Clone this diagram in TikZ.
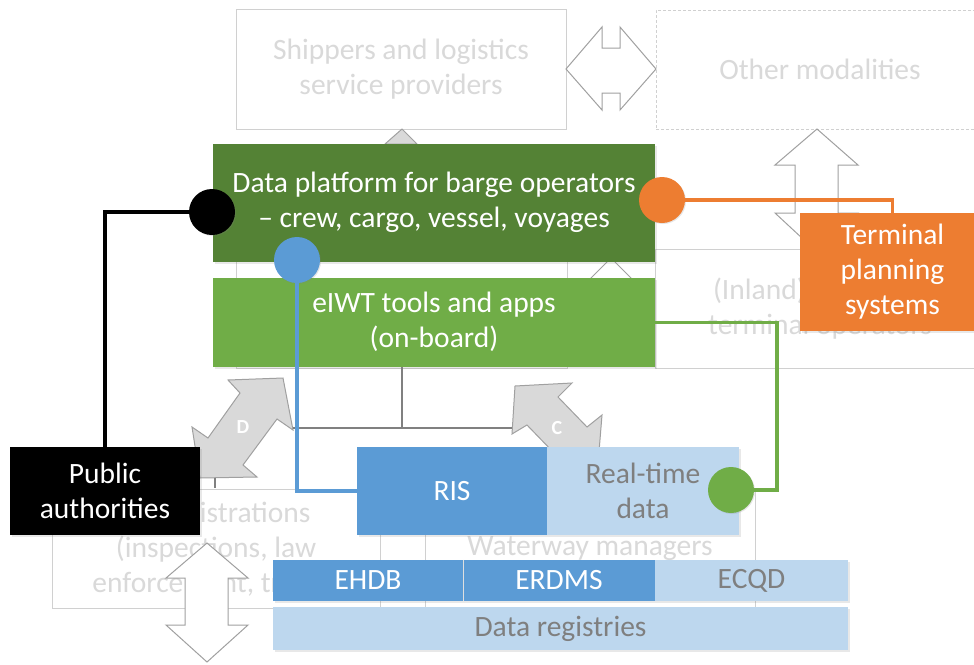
\documentclass[tikz,border=0pt]{standalone}
\usepackage{fontspec}
\setmainfont{Carlito}
\usetikzlibrary{shadows}
\definecolor{dkgreen}{HTML}{548235}
\definecolor{ltgreen}{HTML}{70AD47}
\definecolor{orng}{HTML}{ED7D31}
\definecolor{blu}{HTML}{5B9BD5}
\definecolor{ltblu}{HTML}{BDD7EE}
\definecolor{fadetxt}{HTML}{D9D9D9}
\definecolor{fadeline}{HTML}{D0D0D0}
\definecolor{txtgray}{HTML}{7F7F7F}
\definecolor{arrowline}{HTML}{A0A0A0}
\definecolor{arrowfill}{HTML}{D9D9D9}
\begin{document}
\begin{tikzpicture}[x=1pt,y=-1pt,
  every node/.style={font=\fontsize{29.5}{35}\selectfont, inner sep=0pt, align=center},
  fadebox/.style={rectangle, draw=fadeline, line width=1pt, fill=white, text=fadetxt},
  solidbox/.style={rectangle, draw=none, text=white,
     drop shadow={opacity=0.18, shadow xshift=1.5pt, shadow yshift=-1.5pt}},
  joindot/.style={circle, minimum size=46pt, draw=none,
     drop shadow={opacity=0.2, shadow xshift=1pt, shadow yshift=-1pt}},
  conn/.style={line width=3.5pt},
  blockarrow/.style={draw=arrowline, line width=1pt, fill=white, line join=miter},
  grayarrow/.style={draw=arrowline, line width=1pt, fill=arrowfill, line join=miter},
  treeline/.style={draw=gray, line width=1.2pt},
  arrlabel/.style={font=\fontsize{20}{24}\selectfont\bfseries, text=white}
]
\useasboundingbox (0,0) rectangle (974,664);

% faded background boxes
\node[fadebox, minimum width=331pt, minimum height=218pt] (barge) at (401.5,259) {};
\node[fadebox, minimum width=330pt, minimum height=119pt] (inland) at (820,309) {(Inland) ports and\\terminal operators};
\node[fadebox, minimum width=328pt, minimum height=119pt] (admin) at (216,549) {Administrations\\(inspections, law\\enforcement, traffic)};
\node[fadebox, minimum width=330pt, minimum height=119pt] (waterway) at (590,549) {Waterway managers};
\node[fadebox, minimum width=330pt, minimum height=120pt] (ship) at (401,69) {Shippers and logistics\\service providers};
\node[fadebox, dash pattern=on 3pt off 2pt, minimum width=328pt, minimum height=119pt] (other) at (820,69.5) {Other modalities};

% block arrows
\draw[blockarrow] (566,69) -- (602,27) -- (602,48) -- (620,48) -- (620,27) -- (656,69)
   -- (620,110) -- (620,93) -- (602,93) -- (602,110) -- cycle;
\draw[blockarrow] (817,129) -- (858,165) -- (838,165) -- (838,213) -- (858,213) -- (817,252)
   -- (775,213) -- (795,213) -- (795,165) -- (775,165) -- cycle;
\draw[grayarrow] (402,129) -- (417,144) -- (385,144) -- cycle;
\draw[blockarrow] (611,258) -- (640,287) -- (582,287) -- cycle;
\draw[grayarrow] (283,378) -- (293,430) -- (277,419) -- (243,465) -- (257,477) -- (200,478)
   -- (192,427) -- (208,438) -- (240,393) -- (228,380) -- cycle;
\draw[grayarrow] (515,386) -- (572,383) -- (558,397) -- (587,427) -- (602,415) -- (598,464)
   -- (541,467) -- (556,455) -- (527,425) -- (512,434) -- cycle;
\draw[blockarrow] (207,543) -- (248,578) -- (228,578) -- (228,625) -- (248,625) -- (207,662)
   -- (166,625) -- (185,625) -- (185,578) -- (166,578) -- cycle;
\node[arrlabel] (dlab) at (243,427) {D};
\node[arrlabel] (clab) at (557,428) {C};

% colored boxes
\node[solidbox, fill=dkgreen, minimum width=442pt, minimum height=118pt] (dp) at (434,203) {\raisebox{-2pt}{\begin{tabular}{@{}c@{}}Data platform for barge operators\\– crew, cargo, vessel, voyages\end{tabular}}};
\node[solidbox, fill=ltgreen, minimum width=442pt, minimum height=89pt] (eiwt) at (434,322.5) {\raisebox{-2pt}{\begin{tabular}{@{}c@{}}eIWT tools and apps\\(on-board)\end{tabular}}};

% tree lines
\coordinate (tj) at (402,428);
\coordinate (dR) at (293,428);
\coordinate (cL) at (512,428);
\draw[treeline] (eiwt.south -| tj) -- (tj);
\draw[treeline] (dR) -- (cL);
\draw[treeline] (215,478) -- (215,488);

\node[solidbox, fill=orng, minimum width=185pt, minimum height=118pt] (term) at (892.5,272) {\raisebox{-2pt}{\begin{tabular}{@{}c@{}}Terminal\\planning\\systems\end{tabular}}};
\node[solidbox, fill=black, minimum width=190pt, minimum height=88pt] (pub) at (105,491) {Public\\authorities};
\node[solidbox, fill=blu, minimum width=190pt, minimum height=88pt] (ris) at (452,491) {RIS};
\node[solidbox, fill=ltblu, text=txtgray, minimum width=192pt, minimum height=88pt] (rt) at (643,491) {Real-time\\data};
\node[solidbox, fill=blu, minimum width=190pt, minimum height=41pt] (ehdb) at (368,580.5) {EHDB};
\node[solidbox, fill=blu, minimum width=192pt, minimum height=41pt] (erdms) at (559,580.5) {ERDMS};
\node[solidbox, fill=ltblu, text=txtgray, minimum width=193pt, minimum height=41pt] (ecqd) at (751.5,580.5) {ECQD};
\node[solidbox, fill=ltblu, text=txtgray, minimum width=575pt, minimum height=43pt] (reg) at (560.5,628.5) {Data registries};
\draw[white!75!gray, line width=1pt] (ehdb.north east) -- (ehdb.south east);

% dots and connectors
\node[joindot, fill=black] (bdot) at (212,212) {};
\node[joindot, fill=orng] (odot) at (662,200) {};
\node[joindot, fill=blu] (udot) at (297,260) {};
\node[joindot, fill=ltgreen] (gdot) at (731,490) {};
\coordinate (gbend) at (777,490);
\draw[conn, black] (bdot) -| (pub);
\draw[conn, blu] (udot) |- (ris);
\draw[conn, orng] (odot) -| (term);
\draw[conn, ltgreen] (gdot) -- (gbend) |- (eiwt);
\end{tikzpicture}
\end{document}
